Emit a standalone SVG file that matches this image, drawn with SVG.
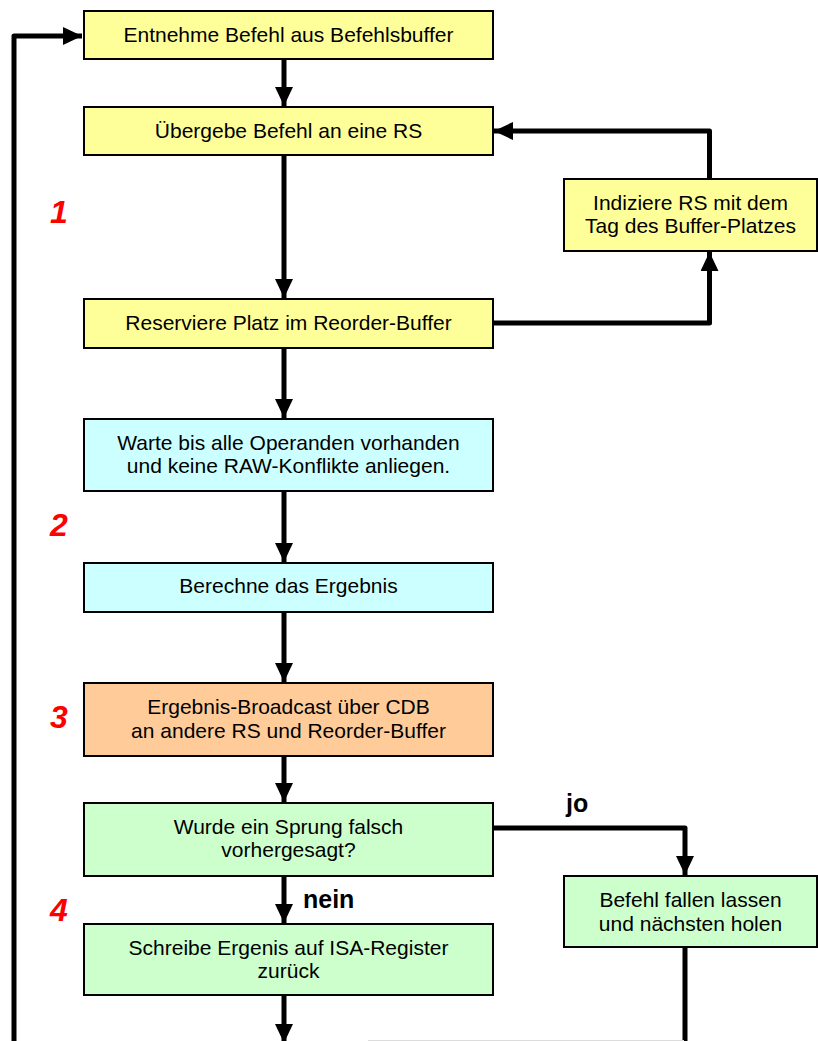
<svg xmlns="http://www.w3.org/2000/svg" width="818" height="1041" viewBox="0 0 818 1041">
  <style>
    .box { stroke: #000; stroke-width: 2; }
    .yellow { fill: #FFFF99; }
    .cyan { fill: #CCFFFF; }
    .orange { fill: #FFCC99; }
    .green { fill: #CCFFCC; }
    .label { font-family: "Liberation Sans", Arial, sans-serif; font-size: 21px; fill: #000; text-anchor: middle; }
    .edge { fill: none; stroke: #000; stroke-width: 5; stroke-linejoin: round; }
    .branch { font-family: "Liberation Sans", Arial, sans-serif; font-size: 25px; font-weight: bold; fill: #000; }
    .phase { font-family: "Liberation Sans", Arial, sans-serif; font-size: 32px; font-weight: bold; font-style: italic; fill: #FF0000; text-anchor: middle; }
  </style>
  <defs>
    <marker id="arrow" markerWidth="19" markerHeight="18" refX="19" refY="9" markerUnits="userSpaceOnUse" orient="auto" viewBox="0 0 19 18">
      <path d="M0,0 L19,9 L0,18 Z" fill="#000"/>
    </marker>
  </defs>

  <rect width="818" height="1041" fill="#fff"/>

  <!-- connectors -->
  <g id="connectors">
    <path class="edge" d="M14,1041 V36 H82" marker-end="url(#arrow)"/>
    <path class="edge" d="M284,59 V106" marker-end="url(#arrow)"/>
    <path class="edge" d="M284,155 V298" marker-end="url(#arrow)"/>
    <path class="edge" d="M493,323 H709.5 V252" marker-end="url(#arrow)"/>
    <path class="edge" d="M709.5,179 V131 H494" marker-end="url(#arrow)"/>
    <path class="edge" d="M284,348 V418" marker-end="url(#arrow)"/>
    <path class="edge" d="M284,491 V562" marker-end="url(#arrow)"/>
    <path class="edge" d="M284,612 V682" marker-end="url(#arrow)"/>
    <path class="edge" d="M284,756 V802" marker-end="url(#arrow)"/>
    <path class="edge" d="M493,828 H685 V875" marker-end="url(#arrow)"/>
    <path class="edge" d="M284,876 V923" marker-end="url(#arrow)"/>
    <path class="edge" d="M284,995 V1043" marker-end="url(#arrow)"/>
    <path class="edge" d="M685,947 V1041"/>
    <line x1="368" y1="1040.5" x2="684" y2="1040.5" stroke="#dcdcdc" stroke-width="1"/>
    <text class="branch" x="566" y="812">jo</text>
    <text class="branch" x="303" y="908">nein</text>
  </g>

  <!-- phase numbers -->
  <g id="phases">
    <text class="phase" x="59" y="223">1</text>
    <text class="phase" x="59" y="536">2</text>
    <text class="phase" x="59" y="728">3</text>
    <text class="phase" x="59" y="921">4</text>
  </g>

  <g id="fetch">
    <rect class="box yellow" x="84" y="11" width="409" height="48"/>
    <text class="label" x="288.5" y="42">Entnehme Befehl aus Befehlsbuffer</text>
  </g>

  <g id="issue">
    <rect class="box yellow" x="84" y="107" width="409" height="48"/>
    <text class="label" x="288.5" y="138">Übergebe Befehl an eine RS</text>
  </g>

  <g id="tag-rs">
    <rect class="box yellow" x="564" y="179" width="253" height="72"/>
    <text class="label" x="690.5" y="210">Indiziere RS mit dem</text>
    <text class="label" x="690.5" y="233">Tag des Buffer-Platzes</text>
  </g>

  <g id="reserve">
    <rect class="box yellow" x="84" y="299" width="409" height="49"/>
    <text class="label" x="288.5" y="330">Reserviere Platz im Reorder-Buffer</text>
  </g>

  <g id="wait">
    <rect class="box cyan" x="84" y="419" width="409" height="72"/>
    <text class="label" x="288.5" y="450">Warte bis alle Operanden vorhanden</text>
    <text class="label" x="288.5" y="473">und keine RAW-Konflikte anliegen.</text>
  </g>

  <g id="execute">
    <rect class="box cyan" x="84" y="563" width="409" height="49"/>
    <text class="label" x="288.5" y="593">Berechne das Ergebnis</text>
  </g>

  <g id="broadcast">
    <rect class="box orange" x="84" y="683" width="409" height="73"/>
    <text class="label" x="288.5" y="714">Ergebnis-Broadcast über CDB</text>
    <text class="label" x="288.5" y="738">an andere RS und Reorder-Buffer</text>
  </g>

  <g id="mispredict">
    <rect class="box green" x="84" y="803" width="409" height="73"/>
    <text class="label" x="288.5" y="834">Wurde ein Sprung falsch</text>
    <text class="label" x="288.5" y="857">vorhergesagt?</text>
  </g>

  <g id="discard">
    <rect class="box green" x="564" y="876" width="253" height="71"/>
    <text class="label" x="690.5" y="907">Befehl fallen lassen</text>
    <text class="label" x="690.5" y="931">und nächsten holen</text>
  </g>

  <g id="commit">
    <rect class="box green" x="84" y="924" width="409" height="71"/>
    <text class="label" x="288.5" y="955">Schreibe Ergenis auf ISA-Register</text>
    <text class="label" x="288.5" y="978">zurück</text>
  </g>
</svg>
